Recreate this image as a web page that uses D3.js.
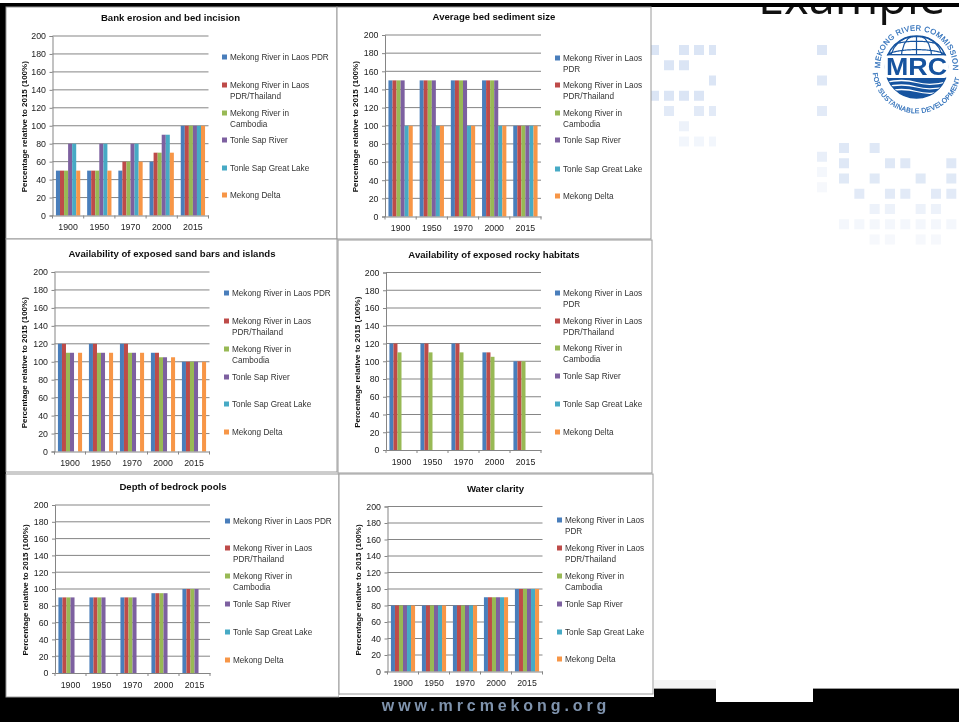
<!DOCTYPE html>
<html>
<head>
<meta charset="utf-8">
<title>Mekong river indicators</title>
<script src="https://cdn.jsdelivr.net/npm/d3@7"></script>
<style>
html,body{margin:0;padding:0;background:#fff;overflow:hidden}
svg{display:block;font-family:"Liberation Sans",Arial,sans-serif}
</style>
</head>
<body>
<svg id="slide" width="959" height="722"></svg>
<script>
// Shared categories and series
const years = ["1900", "1950", "1970", "2000", "2015"];
const seriesNames = [
  "Mekong River in Laos PDR",
  "Mekong River in Laos PDR/Thailand",
  "Mekong River in Cambodia",
  "Tonle Sap River",
  "Tonle Sap Great Lake",
  "Mekong Delta"
];
const seriesColors = ["#4a7ebb", "#be4b48", "#98b954", "#7d60a0", "#46aac5", "#f79646"];
const yTicks = d3.range(0, 201, 20);
const yAxisTitle = "Percentage relative to 2015 (100%)";

// Values per indicator, one row per river reach (null = no bar)
const bankErosion = [
  [50, 50, 50, 60, 100],
  [50, 50, 60, 70, 100],
  [50, 50, 60, 70, 100],
  [80, 80, 80, 90, 100],
  [80, 80, 80, 90, 100],
  [50, 50, 60, 70, 100]
];
const bedSediment = [
  [150, 150, 150, 150, 100],
  [150, 150, 150, 150, 100],
  [150, 150, 150, 150, 100],
  [150, 150, 150, 150, 100],
  [100, 100, 100, 100, 100],
  [100, 100, 100, 100, 100]
];
const sandBars = [
  [120, 120, 120, 110, 100],
  [120, 120, 120, 110, 100],
  [110, 110, 110, 105, 100],
  [110, 110, 110, 105, 100],
  [null, null, null, null, null],
  [110, 110, 110, 105, 100]
];
const rockyHabitats = [
  [120, 120, 120, 110, 100],
  [120, 120, 120, 110, 100],
  [110, 110, 110, 105, 100],
  [null, null, null, null, null],
  [null, null, null, null, null],
  [null, null, null, null, null]
];
const bedrockPools = [
  [90, 90, 90, 95, 100],
  [90, 90, 90, 95, 100],
  [90, 90, 90, 95, 100],
  [90, 90, 90, 95, 100],
  [null, null, null, null, null],
  [null, null, null, null, null]
];
const waterClarity = [
  [80, 80, 80, 90, 100],
  [80, 80, 80, 90, 100],
  [80, 80, 80, 90, 100],
  [80, 80, 80, 90, 100],
  [80, 80, 80, 90, 100],
  [80, 80, 80, 90, 100]
];

// Line breaks of the legend, which vary with the width of the panel
const wideBreaks = [["Mekong River in Laos PDR"], ["Mekong River in Laos", "PDR/Thailand"], ["Mekong River in", "Cambodia"], ["Tonle Sap River"], ["Tonle Sap Great Lake"], ["Mekong Delta"]];
const narrowBreaks = [["Mekong River in Laos", "PDR"], ["Mekong River in Laos", "PDR/Thailand"], ["Mekong River in", "Cambodia"], ["Tonle Sap River"], ["Tonle Sap Great Lake"], ["Mekong Delta"]];

// Panel layout: frame, plot area and the vertical position of each legend row
const panels = [
  {title: "Bank erosion and bed incision", values: bankErosion, frame: [6, 7, 331, 232], plot: [52.5, 36, 208.5, 215.5], titleX: 170.5, titleY: 21, legendX: 222, legendY: [57, 85, 113, 140, 168, 195], breaks: wideBreaks, axisTitleX: 26.5},
  {title: "Average bed sediment size", values: bedSediment, frame: [337, 7, 314, 232], plot: [385, 35, 541, 216.5], titleX: 494, titleY: 20, legendX: 555, legendY: [58, 85, 113, 140, 169, 196], breaks: narrowBreaks, axisTitleX: 358},
  {title: "Availability of exposed sand bars and islands", values: sandBars, frame: [6, 239, 331, 233], plot: [54.5, 272, 209.5, 451.5], titleX: 172, titleY: 257, legendX: 224, legendY: [293, 321, 349, 377, 404, 432], breaks: wideBreaks, axisTitleX: 27},
  {title: "Availability of exposed rocky habitats", values: rockyHabitats, frame: [338, 240, 314, 233], plot: [386, 272.5, 541, 450], titleX: 494, titleY: 258, legendX: 555, legendY: [293, 321, 348, 376, 404, 432], breaks: narrowBreaks, axisTitleX: 359.5},
  {title: "Depth of bedrock pools", values: bedrockPools, frame: [6, 474, 333, 223], plot: [55, 505, 210, 673], titleX: 173, titleY: 490, legendX: 225, legendY: [521, 548, 576, 604, 632, 660], breaks: wideBreaks, axisTitleX: 28},
  {title: "Water clarity", values: waterClarity, frame: [339, 474, 314, 220], plot: [387.5, 506.5, 542.5, 671.5], titleX: 495.5, titleY: 491.5, legendX: 557, legendY: [520, 548, 576, 604, 632, 659], breaks: narrowBreaks, axisTitleX: 360.5}
];

const svg = d3.select("#slide");
const defs = svg.append("defs");
defs.append("filter").attr("id", "soft")
  .attr("x", "-2%").attr("y", "-2%").attr("width", "104%").attr("height", "104%")
  .append("feGaussianBlur").attr("stdDeviation", 0.55);
defs.append("filter").attr("id", "softer").append("feGaussianBlur").attr("stdDeviation", 0.4);
defs.append("clipPath").attr("id", "patternClip").append("rect")
  .attr("x", 651).attr("y", 0).attr("width", 65).attr("height", 722);

// Faint square pattern behind the slide: [column, row, strength]
const patternUpper = [
  [0,0,1],[2,0,1],[3,0,1],[4,0,1],
  [1,1,1],[2,1,1],
  [4,2,1],
  [0,3,1],[1,3,1],[2,3,1],[3,3,1],
  [1,4,.8],[3,4,.8],[4,4,.8],
  [2,5,.5],
  [2,6,.35],[3,6,.35],[4,6,.35]
];
const patternColumn = [[0,1],[2,.9],[4,.8],[7,.6],[8,.3],[9,.25]];
const patternLower = [
  [0,0,.9],[2,0,.9],
  [0,1,.9],[3,1,.9],[4,1,.9],[7,1,.9],
  [0,2,.85],[2,2,.85],[5,2,.85],[7,2,.85],
  [1,3,.8],[3,3,.8],[4,3,.8],[6,3,.8],[7,3,.8],
  [2,4,.5],[3,4,.5],[5,4,.5],[6,4,.5],
  [0,5,.3],[1,5,.3],[2,5,.3],[3,5,.3],[4,5,.3],[5,5,.3],[6,5,.3],[7,5,.3],
  [2,6,.25],[3,6,.25],[5,6,.25],[6,6,.25]
];
const squares = svg.append("g").attr("filter", "url(#soft)");
const drawSquares = (parent, rows, cx, cy) => parent.selectAll(null).data(rows).join("rect")
  .attr("x", d => cx(d) - 5).attr("y", d => cy(d) - 5)
  .attr("width", 10).attr("height", 10)
  .attr("fill", "#dbe5f5").attr("opacity", d => d[2]);
const rowStep = 15.25;
drawSquares(squares.append("g").attr("clip-path", "url(#patternClip)"), patternUpper, d => 654 + d[0] * 15, d => 50 + d[1] * rowStep);
drawSquares(squares.append("g"), patternColumn.map(d => [0, d[0], d[1]]), () => 822, d => 50 + d[1] * rowStep);
drawSquares(squares.append("g"), patternLower, d => 844 + d[0] * 15.33, d => 148 + d[1] * rowStep);

// Slide heading, cut off by the black rule above it
svg.append("text").attr("x", 758).attr("y", 13.5)
  .attr("font-family", "'Open Sans', sans-serif").attr("font-size", 47).attr("fill", "#111")
  .text("Example");

// Dark strips framing the slide
const strips = [[0, 0, 959, 3, "#fff"], [0, 3, 959, 4, "#000"], [0, 3, 6, 694, "#000"], [0, 697, 654, 25, "#000"], [654, 689, 305, 33, "#000"]];
svg.append("g").selectAll("rect").data(strips).join("rect")
  .attr("x", d => d[0]).attr("y", d => d[1]).attr("width", d => d[2]).attr("height", d => d[3]).attr("fill", d => d[4]);

// Pale band, thin rule and the white tab at the foot of the slide
svg.append("rect").attr("x", 654).attr("y", 680).attr("width", 62).attr("height", 8).attr("fill", "#f4f4f4");
svg.append("rect").attr("x", 654).attr("y", 688).attr("width", 305).attr("height", 1).attr("fill", "#999");
svg.append("rect").attr("x", 716).attr("y", 680).attr("width", 97).attr("height", 22).attr("fill", "#fff");

svg.append("text").attr("x", 496).attr("y", 711).attr("text-anchor", "middle")
  .attr("font-size", 16).attr("font-weight", "bold").attr("letter-spacing", 3.9)
  .attr("fill", "#7f93ad").attr("filter", "url(#softer)").text("www.mrcmekong.org");

// One clustered column chart per indicator
panels.forEach(p => {
  const g = svg.append("g").attr("filter", "url(#soft)");
  const [fx, fy, fw, fh] = p.frame;
  const [x0, y0, x1, y1] = p.plot;
  g.append("rect").attr("x", fx).attr("y", fy).attr("width", fw).attr("height", fh)
    .attr("fill", "#fff").attr("stroke", "#9a9a9a").attr("stroke-width", 1);

  g.append("text").attr("x", p.titleX).attr("y", p.titleY).attr("text-anchor", "middle")
    .attr("font-size", 9.6).attr("font-weight", "bold").attr("fill", "#111").text(p.title);

  const x = d3.scaleBand().domain(years).range([x0, x1]);
  const xInner = d3.scaleBand().domain(d3.range(seriesNames.length)).range([0, x.bandwidth()]).paddingOuter(0.85).paddingInner(0);
  const y = d3.scaleLinear().domain([0, 200]).range([y1, y0]);

  // Gridlines and value axis
  g.append("g").selectAll("line").data(yTicks.slice(1)).join("line")
    .attr("x1", x0).attr("x2", x1).attr("y1", d => y(d)).attr("y2", d => y(d))
    .attr("stroke", "#858585").attr("stroke-width", 1);

  const yAxis = g.append("g").attr("transform", `translate(${x0},0)`)
    .call(d3.axisLeft(y).tickValues(yTicks).tickSize(3).tickPadding(3.5));
  yAxis.selectAll("text").attr("font-size", 8.8).attr("font-family", "inherit").attr("fill", "#222");
  yAxis.selectAll("line,path").attr("stroke", "#858585");

  // Columns
  p.values.forEach((row, s) => {
    g.append("g").selectAll("rect").data(row.map((v, i) => ({v, year: years[i]})).filter(d => d.v !== null)).join("rect")
      .attr("x", d => x(d.year) + xInner(s))
      .attr("y", d => y(d.v))
      .attr("width", xInner.bandwidth())
      .attr("height", d => y(0) - y(d.v))
      .attr("fill", seriesColors[s]);
  });

  // Category axis with ticks between the groups
  const xAxis = g.append("g").attr("transform", `translate(0,${y1})`)
    .call(d3.axisBottom(x).tickSize(0).tickPadding(8.5));
  xAxis.selectAll("text").attr("font-size", 8.8).attr("font-family", "inherit").attr("fill", "#222");
  xAxis.select("path").attr("stroke", "#858585");
  xAxis.selectAll(".bound").data(d3.range(years.length + 1)).join("line").attr("class", "bound")
    .attr("x1", i => x0 + i * x.step()).attr("x2", i => x0 + i * x.step())
    .attr("y1", 0).attr("y2", 3).attr("stroke", "#858585");

  g.append("text")
    .attr("transform", `translate(${p.axisTitleX},${(y0 + y1) / 2 + 1}) rotate(-90)`)
    .attr("text-anchor", "middle").attr("font-size", 8).attr("font-weight", "bold").attr("fill", "#111")
    .text(yAxisTitle);

  // Legend
  const legend = g.append("g").selectAll("g").data(seriesNames).join("g")
    .attr("transform", (d, i) => `translate(${p.legendX},${p.legendY[i]})`);
  legend.append("rect").attr("x", 0).attr("y", -2.5).attr("width", 5).attr("height", 5)
    .attr("fill", (d, i) => seriesColors[i]);
  legend.each(function (d, i) {
    const label = d3.select(this).append("text").attr("font-size", 8.2).attr("fill", "#333");
    label.selectAll("tspan").data(p.breaks[i]).join("tspan")
      .attr("x", 8).attr("y", (line, k) => 3 + k * 11).text(line => line);
  });
});

// White strip under the right-hand bottom panel
svg.append("rect").attr("x", 339).attr("y", 695).attr("width", 315).attr("height", 2).attr("fill", "#fff");

// Commission emblem: ring lettering, globe, initials and waves
const logo = svg.append("g").attr("transform", "translate(916.5,67)").attr("filter", "url(#softer)");
const logoBlue = "#14539f";
const arc = (id, r, a0, a1, sweep) => {
  const px = a => r * Math.cos(a * Math.PI / 180), py = a => r * Math.sin(a * Math.PI / 180);
  defs.append("path").attr("id", id).attr("d", `M${px(a0)},${py(a0)} A${r},${r} 0 1 ${sweep} ${px(a1)},${py(a1)}`);
};
arc("ringTop", 36.5, 178, 25, 1);
arc("ringBottom", 44, 172, -5, 0);
logo.append("text").attr("font-size", 7.6).attr("fill", "#2a6cb8").attr("stroke", "#2a6cb8").attr("stroke-width", 0.2).attr("letter-spacing", 0.35)
  .append("textPath").attr("href", "#ringTop").text("MEKONG RIVER COMMISSION");
logo.append("text").attr("font-size", 6.9).attr("fill", "#2a6cb8").attr("stroke", "#2a6cb8").attr("stroke-width", 0.2).attr("letter-spacing", 0.3)
  .append("textPath").attr("href", "#ringBottom").text("FOR SUSTAINABLE DEVELOPMENT");
logo.append("circle").attr("r", 31).attr("fill", "#fff").attr("stroke", logoBlue).attr("stroke-width", 1.5);
defs.append("clipPath").attr("id", "globeCap").append("rect").attr("x", -32).attr("y", -32).attr("width", 64).attr("height", 20);
defs.append("clipPath").attr("id", "globeBase").append("circle").attr("r", 31);
const projection = d3.geoOrthographic().scale(31).translate([0, 0]).rotate([0, 12]).clipAngle(90);
logo.append("path").attr("clip-path", "url(#globeCap)")
  .attr("d", d3.geoPath(projection)(d3.geoGraticule().step([30, 22])()))
  .attr("fill", "none").attr("stroke", logoBlue).attr("stroke-width", 1.2);
logo.append("rect").attr("x", -29).attr("y", -13).attr("width", 58).attr("height", 1.6).attr("fill", logoBlue);
logo.append("rect").attr("x", -32).attr("y", -11.4).attr("width", 64).attr("height", 22).attr("fill", "#fff");
logo.append("text").attr("x", -30.5).attr("y", 8).attr("font-size", 24)
  .attr("font-weight", "bold").attr("fill", logoBlue)
  .attr("textLength", 61).attr("lengthAdjust", "spacingAndGlyphs").text("MRC");
const waves = logo.append("g").attr("clip-path", "url(#globeBase)");
waves.append("rect").attr("x", -32).attr("y", 11).attr("width", 64).attr("height", 21).attr("fill", logoBlue);
[15.5, 20, 24.5].forEach(wy => {
  waves.append("path").attr("d", `M-32,${wy} Q-14,${wy - 4} 0,${wy} T32,${wy - 1}`)
    .attr("fill", "none").attr("stroke", "#fff").attr("stroke-width", 1.3);
});
</script>
</body>
</html>
